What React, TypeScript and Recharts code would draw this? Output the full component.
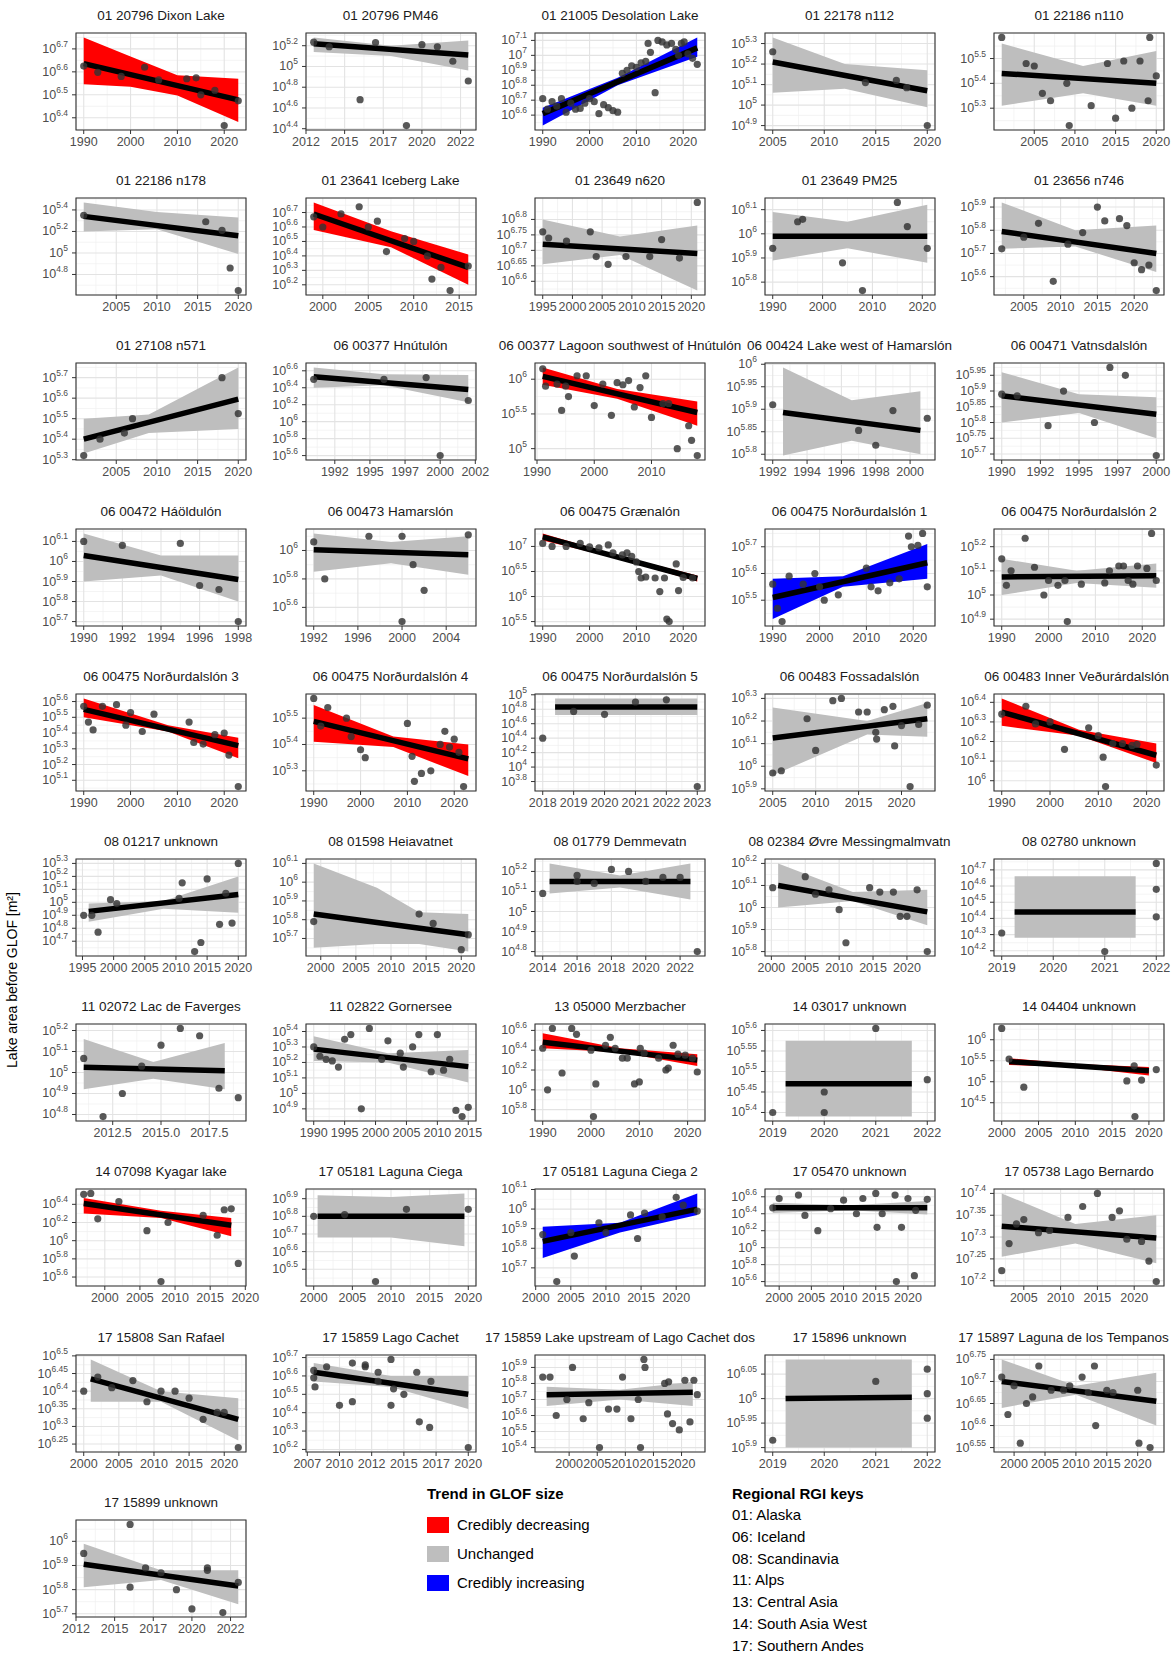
import React from 'react';
import {
  ComposedChart,
  Area,
  Line,
  Scatter,
  XAxis,
  YAxis,
  CartesianGrid,
  ReferenceArea,
} from 'recharts';

type Pt = [number, number];
type Rib = [number, number, number]; // year, lower, upper (log10 m²)

const titles = [
  '01 20796 Dixon Lake', '01 20796 PM46', '01 21005 Desolation Lake', '01 22178 n112', '01 22186 n110',
  '01 22186 n178', '01 23641 Iceberg Lake', '01 23649 n620', '01 23649 PM25', '01 23656 n746',
  '01 27108 n571', '06 00377 Hnútulón', '06 00377 Lagoon southwest of Hnútulón', '06 00424 Lake west of Hamarslón', '06 00471 Vatnsdalslón',
  '06 00472 Háöldulón', '06 00473 Hamarslón', '06 00475 Grænalón', '06 00475 Norðurdalslón 1', '06 00475 Norðurdalslón 2',
  '06 00475 Norðurdalslón 3', '06 00475 Norðurdalslón 4', '06 00475 Norðurdalslón 5', '06 00483 Fossadalslón', '06 00483 Inner Veðurárdalslón',
  '08 01217 unknown', '08 01598 Heiavatnet', '08 01779 Demmevatn', '08 02384 Øvre Messingmalmvatn', '08 02780 unknown',
  '11 02072 Lac de Faverges', '11 02822 Gornersee', '13 05000 Merzbacher', '14 03017 unknown', '14 04404 unknown',
  '14 07098 Kyagar lake', '17 05181 Laguna Ciega', '17 05181 Laguna Ciega 2', '17 05470 unknown', '17 05738 Lago Bernardo',
  '17 15808 San Rafael', '17 15859 Lago Cachet', '17 15859 Lake upstream of Lago Cachet dos', '17 15896 unknown', '17 15897 Laguna de los Tempanos',
  '17 15899 unknown',
];

// D = credibly decreasing, U = unchanged, I = credibly increasing
const trends = [
  'D', 'U', 'I', 'U', 'U',
  'U', 'D', 'U', 'U', 'U',
  'U', 'U', 'D', 'U', 'U',
  'U', 'U', 'D', 'I', 'U',
  'D', 'D', 'U', 'U', 'D',
  'U', 'U', 'U', 'U', 'U',
  'U', 'U', 'D', 'U', 'D',
  'D', 'U', 'I', 'U', 'U',
  'U', 'U', 'U', 'U', 'U',
  'U',
];

const points: Pt[][] = [
  [[1990, 6.625], [1993, 6.598], [1998, 6.58], [2003, 6.62], [2006, 6.565], [2012, 6.57], [2014, 6.574], [2015, 6.5], [2018, 6.52], [2020, 6.366], [2023, 6.474]],
  [[2013, 5.234], [2014, 5.19], [2016, 4.68], [2017, 5.23], [2019, 4.43], [2020, 5.21], [2021, 5.19], [2022, 5.05], [2023, 4.86]],
  [[1990, 6.71], [1991, 6.64], [1992, 6.69], [1993, 6.66], [1994, 6.71], [1995, 6.62], [1996, 6.68], [1997, 6.64], [1998, 6.645], [1999, 6.68], [2000, 6.71], [2001, 6.69], [2002, 6.61], [2003, 6.67], [2004, 6.65], [2005, 6.63], [2006, 6.62], [2007, 6.88], [2008, 6.9], [2009, 6.93], [2010, 6.92], [2011, 6.95], [2012, 6.96], [2012.5, 7.08], [2013, 7.02], [2014, 6.75], [2014.6, 7.1], [2015.5, 7.09], [2016.5, 7.07], [2017.5, 7.08], [2018.4, 7.04], [2019, 7.0], [2019.6, 7.08], [2020.2, 7.09], [2021, 7.01], [2022, 6.98], [2023, 6.94]],
  [[2005, 5.26], [2014, 5.11], [2017, 5.12], [2018, 5.085], [2020, 4.9]],
  [[2001, 5.585], [2004, 5.48], [2005, 5.47], [2006, 5.36], [2007, 5.33], [2009, 5.4], [2009.3, 5.23], [2012, 5.31], [2014, 5.48], [2015, 5.26], [2016, 5.49], [2017, 5.3], [2018, 5.49], [2019, 5.33], [2019.2, 5.585], [2020, 5.43]],
  [[2001, 5.35], [2016, 5.29], [2018, 5.21], [2019, 4.86], [2020, 4.65]],
  [[1999, 6.67], [2000, 6.6], [2002, 6.69], [2004, 6.74], [2005, 6.6], [2006, 6.64], [2007, 6.43], [2009, 6.52], [2010, 6.5], [2011.5, 6.4], [2012, 6.24], [2013, 6.32], [2014, 6.16], [2016, 6.33]],
  [[1995, 6.76], [1996, 6.74], [1999, 6.73], [2003, 6.76], [2004, 6.68], [2006, 6.655], [2009, 6.68], [2013, 6.68], [2015, 6.735], [2018, 6.675], [2021, 6.855]],
  [[1990, 5.94], [1995, 6.05], [1996, 6.06], [2004, 5.88], [2008, 5.765], [2015, 6.13], [2017, 6.03], [2021, 5.94]],
  [[2002, 5.72], [2005, 5.77], [2007, 5.83], [2009, 5.58], [2011, 5.74], [2013, 5.79], [2015, 5.9], [2016, 5.84], [2018, 5.85], [2019, 5.82], [2020, 5.66], [2021, 5.63], [2022, 5.65], [2023, 5.54]],
  [[2001, 5.32], [2003, 5.4], [2006, 5.43], [2007, 5.5], [2018, 5.7], [2020, 5.525]],
  [[1991, 6.5], [1996, 6.5], [1999, 6.52], [2000, 5.6], [2002, 6.25]],
  [[1991, 6.15], [1991.5, 5.9], [1993.5, 5.93], [1994.3, 5.55], [1995, 5.9], [1995.5, 5.75], [1997, 6.05], [1998.6, 6.05], [2000, 5.62], [2001.5, 5.93], [2003, 5.48], [2004, 5.95], [2005, 5.92], [2006, 5.98], [2007, 5.6], [2008, 5.88], [2009, 6.05], [2010, 5.45], [2012, 5.65], [2013, 5.65], [2014.5, 5.0], [2016.5, 5.33], [2017, 5.12], [2018, 4.9]],
  [[1992, 5.91], [1997, 5.853], [1998, 5.82], [1999, 5.897], [2001, 5.88]],
  [[1990, 5.89], [1991, 5.885], [1993, 5.79], [1994, 5.9], [1996, 5.8], [1997, 5.975], [1998, 5.95], [2000, 5.695]],
  [[1990, 6.1], [1992, 6.08], [1995, 6.09], [1996, 5.88], [1997, 5.86], [1998, 5.7]],
  [[1992, 6.06], [1993, 5.8], [1997, 6.1], [2000, 6.1], [2000, 5.5], [2001, 5.9], [2002, 5.72], [2006, 6.11]],
  [[1990, 7.06], [1992, 7.0], [1995, 7.0], [1998, 7.06], [2000, 6.99], [2002, 6.97], [2004, 7.03], [2005, 6.87], [2007, 6.83], [2008, 6.87], [2009, 6.8], [2010, 6.69], [2010.5, 6.5], [2011, 6.37], [2012, 6.39], [2014, 6.37], [2015, 6.1], [2016, 6.37], [2016.5, 5.55], [2017, 5.5], [2018.5, 6.65], [2019, 6.12], [2020, 6.38], [2022, 6.37]],
  [[1990, 5.56], [1991, 5.47], [1992, 5.42], [1993.5, 5.59], [1996.5, 5.56], [1999, 5.6], [2000, 5.55], [2001, 5.5], [2004, 5.52], [2010, 5.62], [2011, 5.55], [2012.5, 5.535], [2015, 5.565], [2017, 5.58], [2019, 5.74], [2019.6, 5.7], [2021, 5.705], [2022, 5.75], [2023, 5.55]],
  [[1990, 5.15], [1991, 5.04], [1992, 5.1], [1995, 5.235], [1997, 5.115], [1999, 5.0], [2000, 5.06], [2002, 5.04], [2003.5, 5.06], [2004, 4.89], [2007, 5.045], [2012, 5.05], [2013, 5.1], [2015, 5.12], [2016, 5.12], [2017, 5.06], [2018, 5.045], [2019, 5.12], [2021, 5.11], [2022, 5.255], [2023, 5.06]],
  [[1990, 5.57], [1991, 5.47], [1992, 5.42], [1994, 5.57], [1997, 5.58], [1999, 5.45], [2000, 5.53], [2002.5, 5.41], [2005, 5.52], [2012.5, 5.47], [2013.5, 5.34], [2015.5, 5.33], [2018, 5.39], [2020, 5.4], [2021, 5.26], [2023, 5.06]],
  [[1990, 5.575], [1991.5, 5.47], [1993, 5.54], [1997, 5.5], [1998, 5.43], [2000, 5.38], [2001, 5.35], [2010, 5.48], [2011, 5.355], [2011.5, 5.26], [2013, 5.29], [2015, 5.3], [2017, 5.4], [2018, 5.45], [2019, 5.39], [2020, 5.42], [2021, 5.37], [2022, 5.24]],
  [[2018, 4.4], [2019, 4.77], [2020, 4.73], [2021, 4.9], [2022, 4.93], [2023, 3.73]],
  [[2005, 5.97], [2006, 5.98], [2009, 6.21], [2010, 6.07], [2012, 6.29], [2013, 6.3], [2015, 6.24], [2016, 6.24], [2017, 6.15], [2017.1, 6.12], [2018, 6.25], [2019, 6.265], [2019.2, 6.09], [2020, 6.18], [2021, 5.91], [2022, 6.185], [2023, 6.27]],
  [[1990, 6.34], [1995, 6.38], [1997, 6.29], [2000, 6.3], [2003, 6.16], [2008, 6.27], [2010, 6.23], [2011, 6.12], [2011.5, 5.97], [2013, 6.19], [2015, 6.19], [2017, 6.18], [2018, 6.185], [2022, 6.08]],
  [[1995.2, 4.9], [1996.5, 4.9], [1997.5, 4.77], [1999.5, 5.02], [2000.5, 4.99], [2010.5, 5.03], [2011, 5.15], [2013, 4.62], [2014, 4.69], [2015, 5.18], [2017, 4.83], [2018, 5.07], [2019, 4.84], [2020, 5.3]],
  [[1999, 5.79], [2014, 5.83], [2016, 5.78], [2020, 5.64], [2021, 5.72]],
  [[2014, 5.09], [2016, 5.18], [2016, 5.15], [2017, 5.14], [2018, 5.21], [2019, 5.2], [2020, 5.15], [2021, 5.17], [2022, 5.17], [2023, 4.8]],
  [[2000.2, 6.09], [2005, 6.14], [2006.5, 6.06], [2008.5, 6.08], [2010, 5.99], [2011, 5.84], [2014.5, 6.09], [2016, 6.07], [2018, 6.07], [2019, 5.96], [2020, 5.96], [2021.5, 6.08], [2023, 5.8]],
  [[2019, 4.31], [2021, 4.195], [2022, 4.74], [2022, 4.58], [2022, 4.41]],
  [[2011, 5.067], [2012, 4.79], [2013, 4.9], [2014, 5.03], [2015, 5.13], [2016, 5.21], [2017, 5.175], [2018, 4.925], [2019, 4.88]],
  [[1990, 5.3], [1991, 5.24], [1992, 5.22], [1993, 5.21], [1994, 5.17], [1995, 5.35], [1996, 5.38], [1997.7, 4.9], [1999, 5.42], [2001, 5.22], [2002, 5.34], [2004, 5.26], [2004.5, 5.17], [2006, 5.3], [2007, 5.38], [2009, 5.14], [2010, 5.38], [2011, 5.15], [2012, 5.22], [2013, 4.89], [2014, 4.85], [2015, 4.91]],
  [[1990, 6.42], [1991, 6.0], [1992, 6.62], [1994, 6.17], [1996, 6.62], [1997, 6.56], [2000, 6.4], [2000.5, 5.73], [2001, 6.06], [2003, 6.45], [2004, 6.53], [2005, 6.42], [2006.5, 6.32], [2007.5, 6.32], [2009, 6.06], [2010, 6.08], [2010.2, 6.42], [2011, 6.37], [2014, 6.32], [2015.5, 6.2], [2016, 6.22], [2017, 6.45], [2018, 6.36], [2019.5, 6.35], [2021, 6.32], [2022, 6.18]],
  [[2019, 5.4], [2020, 5.45], [2020, 5.4], [2021, 5.605], [2022, 5.48]],
  [[2000, 6.27], [2001, 5.54], [2003, 4.87], [2017, 5.02], [2018, 5.38], [2018.1, 4.17], [2019, 5.04], [2021, 5.29]],
  [[1997, 6.51], [1998, 6.52], [1999, 6.24], [2002, 6.43], [2006, 6.11], [2008, 5.55], [2009, 6.2], [2014, 6.28], [2016, 6.06], [2017, 6.34], [2018, 6.35], [2019, 5.75]],
  [[2000, 6.8], [2004, 6.81], [2008, 6.43], [2012, 6.84], [2020, 6.84]],
  [[2001, 5.87], [2003, 5.63], [2005, 5.88], [2005.5, 5.76], [2009, 5.93], [2010, 5.88], [2013.5, 5.97], [2014.5, 5.85], [2015.5, 5.98], [2018, 5.96], [2020, 6.06], [2021, 6.02], [2023, 5.99]],
  [[1999, 6.47], [2000, 6.58], [2003, 6.62], [2004, 6.38], [2006, 6.2], [2008, 6.46], [2010, 6.56], [2012, 6.4], [2013, 6.58], [2015, 6.64], [2015.2, 6.24], [2016, 6.4], [2018, 6.62], [2018.2, 5.6], [2019, 6.24], [2020, 6.58], [2021, 5.67], [2021.2, 6.44], [2023, 6.57]],
  [[2002, 7.223], [2003, 7.285], [2004, 7.33], [2005, 7.34], [2007, 7.31], [2008.5, 7.315], [2011, 7.345], [2013, 7.37], [2015, 7.4], [2017, 7.345], [2018, 7.36], [2019, 7.295], [2021, 7.29], [2022, 7.245], [2023, 7.198]],
  [[2000, 6.4], [2002, 6.44], [2004, 6.41], [2007, 6.43], [2009, 6.37], [2011, 6.4], [2013, 6.4], [2015, 6.38], [2017, 6.32], [2019, 6.34], [2020, 6.34], [2022, 6.24]],
  [[2008, 6.63], [2008, 6.59], [2008.1, 6.54], [2009, 6.65], [2010, 6.44], [2011, 6.46], [2011, 6.67], [2012, 6.66], [2012, 6.65], [2013, 6.62], [2013, 6.57], [2014, 6.69], [2014, 6.44], [2014.2, 6.53], [2015, 6.5], [2016, 6.62], [2016.2, 6.35], [2017, 6.32], [2017.1, 6.57], [2020, 6.21]],
  [[1995.3, 5.84], [1996.6, 5.84], [1997.7, 5.6], [1999.6, 5.7], [2000.6, 5.9], [2002.5, 5.58], [2003.5, 5.68], [2005.4, 5.4], [2007, 5.64], [2008.5, 5.64], [2009.5, 5.84], [2011, 5.58], [2012.3, 5.7], [2012.7, 5.4], [2013.3, 5.95], [2013.5, 5.9], [2017, 5.8], [2017.5, 5.61], [2017.7, 5.81], [2018.4, 5.55], [2019.6, 5.51], [2020.6, 5.82], [2021.5, 5.56], [2022.2, 5.82], [2022.8, 5.73]],
  [[2019, 5.915], [2021, 6.035], [2022, 6.06], [2022, 6.01], [2022, 5.96]],
  [[1998, 6.71], [1999, 6.625], [2000, 6.69], [2001, 6.56], [2002, 6.65], [2003, 6.665], [2004, 6.735], [2006, 6.68], [2008, 6.68], [2009, 6.69], [2011, 6.71], [2012, 6.675], [2013, 6.735], [2013.2, 6.6], [2015, 6.68], [2016, 6.675], [2020, 6.68], [2020.2, 6.56], [2022, 6.55]],
  [[2013, 5.95], [2016, 6.07], [2016, 5.81], [2017, 5.89], [2018, 5.87], [2019, 5.8], [2020, 5.72], [2021, 5.88], [2021, 5.89], [2022, 5.705], [2023, 5.83]],
];

// credible band of the fitted trend
const ribbons: Rib[][] = [
  [[1990, 6.546, 6.75], [2000, 6.535, 6.667], [2010, 6.497, 6.585], [2023, 6.382, 6.57]],
  [[2013, 5.14, 5.28], [2018, 5.1, 5.2], [2023, 4.96, 5.25]],
  [[1990, 6.53, 6.65], [2006, 6.8, 6.85], [2023, 6.99, 7.12]],
  [[2005, 5.06, 5.33], [2012, 5.08, 5.2], [2020, 4.99, 5.17]],
  [[2001, 5.31, 5.56], [2011, 5.36, 5.47], [2020, 5.31, 5.53]],
  [[2001, 5.2, 5.47], [2010, 5.22, 5.38], [2020, 4.99, 5.33]],
  [[1999, 6.58, 6.77], [2007.5, 6.46, 6.57], [2016, 6.2, 6.41]],
  [[1995, 6.655, 6.8], [2008, 6.685, 6.745], [2021, 6.57, 6.78]],
  [[1990, 5.89, 6.09], [2005, 5.94, 6.05], [2021, 5.88, 6.12]],
  [[2002, 5.72, 5.92], [2012, 5.73, 5.8], [2023, 5.62, 5.82]],
  [[2001, 5.33, 5.5], [2009, 5.43, 5.52], [2020, 5.45, 5.75]],
  [[1991, 6.4, 6.64], [1996, 6.43, 6.56], [2002, 6.23, 6.55]],
  [[1991, 5.92, 6.17], [2004, 5.72, 5.86], [2018, 5.33, 5.68]],
  [[1992.6, 5.797, 5.993], [1996.6, 5.83, 5.92], [2000.6, 5.8, 5.94]],
  [[1990, 5.8, 5.96], [1995, 5.83, 5.89], [2000, 5.75, 5.88]],
  [[1990, 5.9, 6.14], [1994, 5.93, 6.03], [1998, 5.8, 6.03]],
  [[1992, 5.85, 6.12], [1999, 5.91, 6.06], [2006, 5.83, 6.1]],
  [[1990, 7.12, 7.26], [2006, 6.76, 6.82], [2023, 6.3, 6.42]],
  [[1990, 5.43, 5.58], [2005, 5.55, 5.59], [2023, 5.58, 5.71]],
  [[1990, 5.0, 5.15], [2006, 5.05, 5.1], [2023, 5.03, 5.13]],
  [[1990, 5.5, 5.62], [2008, 5.41, 5.45], [2023, 5.24, 5.37]],
  [[1990, 5.41, 5.55], [2007, 5.39, 5.43], [2023, 5.28, 5.4]],
  [[2018.4, 4.72, 4.95], [2023, 4.72, 4.95]],
  [[2005, 5.96, 6.26], [2016, 6.14, 6.2], [2023, 6.13, 6.28]],
  [[1990, 6.28, 6.42], [2006, 6.23, 6.26], [2022, 6.09, 6.19]],
  [[1996, 4.85, 4.99], [2008, 4.95, 5.01], [2020, 4.92, 5.2]],
  [[1999, 5.65, 6.1], [2008, 5.67, 5.97], [2014, 5.67, 5.84], [2021, 5.63, 5.83]],
  [[2014.4, 5.09, 5.24], [2018.5, 5.12, 5.18], [2022.6, 5.06, 5.24]],
  [[2001, 6.0, 6.2], [2012, 6.03, 6.07], [2023, 5.92, 6.08]],
  [[2019.25, 4.28, 4.66], [2021.6, 4.28, 4.66]],
  [[2011, 4.92, 5.16], [2014.6, 4.97, 5.05], [2018.3, 4.92, 5.14]],
  [[1990, 5.21, 5.37], [2002, 5.2, 5.26], [2015, 5.07, 5.28]],
  [[1990, 6.42, 6.57], [2006, 6.38, 6.42], [2022, 6.24, 6.36]],
  [[2019.25, 5.39, 5.575], [2021.7, 5.39, 5.575]],
  [[2001, 5.4, 5.56], [2010, 5.35, 5.42], [2020, 5.15, 5.35]],
  [[1997, 6.3, 6.47], [2008, 6.25, 6.33], [2018, 6.05, 6.25]],
  [[2000.5, 6.68, 6.92], [2010, 6.68, 6.91], [2019.5, 6.63, 6.93]],
  [[2001, 5.75, 5.91], [2012, 5.88, 5.93], [2023, 5.97, 6.08]],
  [[1999, 6.41, 6.53], [2011, 6.44, 6.5], [2023, 6.39, 6.55]],
  [[2002, 7.255, 7.4], [2012, 7.285, 7.33], [2023, 7.24, 7.35]],
  [[2001, 6.37, 6.49], [2011, 6.37, 6.4], [2022, 6.26, 6.38]],
  [[2008, 6.57, 6.67], [2014, 6.54, 6.6], [2020, 6.42, 6.6]],
  [[1996, 5.66, 5.78], [2009, 5.7, 5.76], [2022, 5.66, 5.81]],
  [[2019.25, 5.9, 6.08], [2021.7, 5.9, 6.08]],
  [[1998, 6.64, 6.75], [2010, 6.67, 6.69], [2023, 6.6, 6.72]],
  [[2013, 5.81, 5.99], [2018, 5.84, 5.88], [2023, 5.74, 5.88]],
];

// fitted trend at the first and last year of each band
const fits: Pt[] = [
  [6.636, 6.478], [5.22, 5.11], [6.61, 7.05], [5.21, 5.07], [5.44, 5.4],
  [5.34, 5.16], [6.69, 6.32], [6.72, 6.69], [5.99, 5.99], [5.795, 5.7],
  [5.4, 5.595], [6.53, 6.38], [6.04, 5.52], [5.893, 5.853], [5.885, 5.826],
  [6.03, 5.91], [6.005, 5.97], [7.19, 6.36], [5.51, 5.64], [5.075, 5.08],
  [5.55, 5.32], [5.488, 5.345], [4.83, 4.83], [6.125, 6.21], [6.35, 6.13],
  [4.93, 5.06], [5.83, 5.72], [5.15, 5.15], [6.1, 5.98], [4.44, 4.44],
  [5.025, 5.008], [5.286, 5.173], [6.48, 6.3], [5.47, 5.47], [5.48, 5.26],
  [6.41, 6.17], [6.8, 6.8], [5.835, 6.0], [6.47, 6.47], [7.325, 7.298],
  [6.435, 6.32], [6.62, 6.5], [5.73, 5.745], [6.0, 6.003], [6.7, 6.655],
  [5.905, 5.815],
];

const dec10 = [1990, 2000, 2010, 2020];
const five = [2000, 2005, 2010, 2015, 2020];
const from2005 = [2005, 2010, 2015, 2020];
const halfYears = [2012.5, 2015, 2017.5, 2020, 2022.5];

const xTicks: number[][] = [
  dec10, halfYears, dec10, from2005, from2005,
  from2005, [2000, 2005, 2010, 2015], [1995, 2000, 2005, 2010, 2015, 2020], dec10, from2005,
  from2005, [1992.5, 1995, 1997.5, 2000, 2002.5], [1990, 2000, 2010], [1992, 1994, 1996, 1998, 2000], [1990, 1992.5, 1995, 1997.5, 2000],
  [1990, 1992, 1994, 1996, 1998], [1992, 1996, 2000, 2004], dec10, dec10, dec10,
  dec10, dec10, [2018, 2019, 2020, 2021, 2022, 2023], from2005, dec10,
  [1995, 2000, 2005, 2010, 2015, 2020], five, [2014, 2016, 2018, 2020, 2022], five, [2019, 2020, 2021, 2022],
  [2012.5, 2015, 2017.5], [1990, 1995, 2000, 2005, 2010, 2015], dec10, [2019, 2020, 2021, 2022], five,
  five, five, five, five, from2005,
  five, [2007.5, 2010, 2012.5, 2015, 2017.5, 2020], five, [2019, 2020, 2021, 2022], five,
  halfYears,
];

const yTicks: number[][] = [
  [6.4, 6.5, 6.6, 6.7], [4.4, 4.6, 4.8, 5, 5.2], [6.6, 6.7, 6.8, 6.9, 7, 7.1], [4.9, 5, 5.1, 5.2, 5.3], [5.3, 5.4, 5.5],
  [4.8, 5, 5.2, 5.4], [6.2, 6.3, 6.4, 6.5, 6.6, 6.7], [6.6, 6.65, 6.7, 6.75, 6.8], [5.8, 5.9, 6, 6.1], [5.6, 5.7, 5.8, 5.9],
  [5.3, 5.4, 5.5, 5.6, 5.7], [5.6, 5.8, 6, 6.2, 6.4, 6.6], [5, 5.5, 6], [5.8, 5.85, 5.9, 5.95, 6], [5.7, 5.75, 5.8, 5.85, 5.9, 5.95],
  [5.7, 5.8, 5.9, 6, 6.1], [5.6, 5.8, 6], [5.5, 6, 6.5, 7], [5.4, 5.5, 5.6, 5.7], [4.9, 5, 5.1, 5.2],
  [5.1, 5.2, 5.3, 5.4, 5.5, 5.6], [5.3, 5.4, 5.5], [3.8, 4, 4.2, 4.4, 4.6, 4.8, 5], [5.9, 6, 6.1, 6.2, 6.3], [6, 6.1, 6.2, 6.3, 6.4],
  [4.7, 4.8, 4.9, 5, 5.1, 5.2, 5.3], [5.7, 5.8, 5.9, 6, 6.1], [4.8, 4.9, 5, 5.1, 5.2], [5.8, 5.9, 6, 6.1, 6.2], [4.2, 4.3, 4.4, 4.5, 4.6, 4.7],
  [4.8, 4.9, 5, 5.1, 5.2], [4.9, 5, 5.1, 5.2, 5.3, 5.4], [5.8, 6, 6.2, 6.4, 6.6], [5.4, 5.45, 5.5, 5.55, 5.6], [4.5, 5, 5.5, 6],
  [5.6, 5.8, 6, 6.2, 6.4], [6.5, 6.6, 6.7, 6.8, 6.9], [5.7, 5.8, 5.9, 6, 6.1], [5.6, 5.8, 6, 6.2, 6.4, 6.6], [7.2, 7.25, 7.3, 7.35, 7.4],
  [6.25, 6.3, 6.35, 6.4, 6.45, 6.5], [6.2, 6.3, 6.4, 6.5, 6.6, 6.7], [5.4, 5.5, 5.6, 5.7, 5.8, 5.9], [5.9, 5.95, 6, 6.05], [6.55, 6.6, 6.65, 6.7, 6.75],
  [5.7, 5.8, 5.9, 6],
];

const legendItems = [
  { key: 'D', label: 'Credibly decreasing' },
  { key: 'U', label: 'Unchanged' },
  { key: 'I', label: 'Credibly increasing' },
];
const regionKeys = ['01: Alaska', '06: Iceland', '08: Scandinavia', '11: Alps', '13: Central Asia', '14: South Asia West', '17: Southern Andes'];

const FILL: Record<string, string> = { D: '#FF0000', U: '#BEBEBE', I: '#0000FF' };
const FONT = "'Liberation Sans', Arial, Helvetica, sans-serif";
const TICK_GREY = '#4D4D4D';
const TITLE_SIZE = 13.5;
const PAGE_W = 1171;

const PLOT_W = 170;
const PLOT_H = 97;
const Y_W = 58;
const TOP_M = 10;
const RIGHT_M = 20;

// ggplot-style continuous expansion (5% each side)
const expand = (vals: number[]): [number, number] => {
  const lo = Math.min(...vals);
  const hi = Math.max(...vals);
  const pad = (hi - lo) * 0.05;
  return [lo - pad, hi + pad];
};

const inside = (v: number, d: [number, number]) => v >= d[0] - 1e-9 && v <= d[1] + 1e-9;

// minor breaks halfway between the major ones
const minorsOf = (ticks: number[], d: [number, number]) => {
  if (ticks.length < 2) return [];
  const step = ticks[1] - ticks[0];
  const out: number[] = [ticks[0] - step / 2];
  ticks.forEach((t) => out.push(t + step / 2));
  return out.filter((v) => inside(v, d));
};

// strip titles near the right edge get pulled back inside the page
let measureCtx: CanvasRenderingContext2D | null = null;
const textWidth = (s: string) => {
  if (!measureCtx) measureCtx = document.createElement('canvas').getContext('2d');
  if (!measureCtx) return s.length * TITLE_SIZE * 0.5;
  measureCtx.font = `${TITLE_SIZE}px ${FONT}`;
  return measureCtx.measureText(s).width;
};

const YTick = ({ x, y, payload }: any) => (
  <text x={x} y={y + 4} textAnchor="end" fill={TICK_GREY} fontSize={12.5} fontFamily={FONT}>
    10
    <tspan dy={-6} fontSize={8.5}>
      {String(payload.value)}
    </tspan>
  </text>
);

const Dot = (p: any) => <circle cx={p.cx} cy={p.cy} r={3.6} fill="#333333" fillOpacity={0.82} />;

const Panel = ({ i }: { i: number }) => {
  const col = i % 5;
  const row = Math.floor(i / 5);
  const plotLeft = 76 + 229.5 * col;
  const plotTop = 33 + 165.2 * row;

  const rib = ribbons[i];
  const rows = rib.map(([x, lo, hi], k) => ({
    x,
    band: [lo, hi],
    fit: k === 0 ? fits[i][0] : k === rib.length - 1 ? fits[i][1] : null,
  }));
  const pts = points[i].map(([x, y]) => ({ x, y }));

  const xd = expand([...points[i].map((p) => p[0]), ...rib.map((r) => r[0])]);
  const yd = expand([...points[i].map((p) => p[1]), ...rib.flatMap((r) => [r[1], r[2]]), ...fits[i]]);
  const xt = xTicks[i].filter((t) => inside(t, xd));
  const yt = yTicks[i].filter((t) => inside(t, yd));

  // minor grid lines sit between the major breaks of the panel's axes
  const xPix = (v: number) => Y_W + ((v - xd[0]) / (xd[1] - xd[0])) * PLOT_W;
  const yPix = (v: number) => TOP_M + ((yd[1] - v) / (yd[1] - yd[0])) * PLOT_H;
  const vMinor = minorsOf(xTicks[i], xd).map(xPix);
  const hMinor = minorsOf(yTicks[i], yd).map(yPix);
  const fmtX = (v: number) => (i === 30 ? v.toFixed(1) : String(Math.floor(v)));

  const tw = textWidth(titles[i]);
  const titleCenter = Math.min(plotLeft + PLOT_W / 2, PAGE_W - 2 - tw / 2);

  return (
    <>
      <div
        style={{
          position: 'absolute',
          left: titleCenter,
          top: plotTop - 25,
          transform: 'translateX(-50%)',
          whiteSpace: 'nowrap',
          fontSize: TITLE_SIZE,
          lineHeight: '16px',
          color: '#1A1A1A',
        }}
      >
        {titles[i]}
      </div>
      <div style={{ position: 'absolute', left: plotLeft - Y_W, top: plotTop - TOP_M }}>
        <ComposedChart
          width={Y_W + PLOT_W + RIGHT_M}
          height={TOP_M + PLOT_H + 24}
          data={rows}
          margin={{ top: TOP_M, right: RIGHT_M, left: 0, bottom: 0 }}
          style={{ overflow: 'visible' }}
        >
          <CartesianGrid stroke="#EFEFEF" strokeWidth={0.7} horizontalPoints={hMinor} verticalPoints={vMinor} />
          <CartesianGrid stroke="#E3E3E3" strokeWidth={1.1} />
          <XAxis
            type="number"
            dataKey="x"
            domain={xd}
            ticks={xt}
            allowDataOverflow
            interval={0}
            height={24}
            axisLine={false}
            tickSize={4}
            tickMargin={3}
            tickLine={{ stroke: '#333333' }}
            tickFormatter={fmtX}
            tick={{ fill: TICK_GREY, fontSize: 12.5, fontFamily: FONT }}
          />
          <YAxis
            type="number"
            domain={yd}
            ticks={yt}
            allowDataOverflow
            interval={0}
            width={Y_W}
            axisLine={false}
            tickSize={4}
            tickMargin={4}
            tickLine={{ stroke: '#333333' }}
            tick={<YTick />}
          />
          <Area
            dataKey="band"
            type="linear"
            fill={FILL[trends[i]]}
            fillOpacity={1}
            stroke="none"
            isAnimationActive={false}
          />
          <Scatter data={pts} dataKey="y" shape={<Dot />} isAnimationActive={false} />
          <Line
            dataKey="fit"
            type="linear"
            stroke="#000000"
            strokeWidth={5.5}
            dot={false}
            connectNulls
            isAnimationActive={false}
          />
          <ReferenceArea
            x1={xd[0]}
            x2={xd[1]}
            y1={yd[0]}
            y2={yd[1]}
            fill="none"
            stroke="#333333"
            strokeWidth={1.1}
            ifOverflow="visible"
          />
        </ComposedChart>
      </div>
    </>
  );
};

export default function App() {
  return (
    <div
      style={{
        position: 'absolute',
        left: 0,
        top: 0,
        width: PAGE_W,
        height: 1653,
        background: '#FFFFFF',
        fontFamily: FONT,
        overflow: 'hidden',
      }}
    >
      {titles.map((_, i) => (
        <Panel key={i} i={i} />
      ))}

      <div
        style={{
          position: 'absolute',
          left: 12,
          top: 980,
          transform: 'translate(-50%, -50%) rotate(-90deg)',
          whiteSpace: 'nowrap',
          fontSize: 14,
          color: '#000000',
        }}
      >
        Lake area before GLOF [m²]
      </div>

      <div style={{ position: 'absolute', left: 427, top: 1485, fontSize: 15, fontWeight: 'bold', lineHeight: '18px' }}>
        Trend in GLOF size
      </div>
      {legendItems.map((it, k) => (
        <React.Fragment key={it.key}>
          <div
            style={{
              position: 'absolute',
              left: 427,
              top: 1517 + 29 * k,
              width: 22,
              height: 16,
              background: FILL[it.key],
            }}
          />
          <div style={{ position: 'absolute', left: 457, top: 1516 + 29 * k, fontSize: 15, lineHeight: '18px' }}>
            {it.label}
          </div>
        </React.Fragment>
      ))}

      <div style={{ position: 'absolute', left: 732, top: 1485, fontSize: 15, fontWeight: 'bold', lineHeight: '18px' }}>
        Regional RGI keys
      </div>
      {regionKeys.map((r, k) => (
        <div
          key={r}
          style={{ position: 'absolute', left: 732, top: 1506 + 21.8 * k, fontSize: 15, lineHeight: '18px' }}
        >
          {r}
        </div>
      ))}
    </div>
  );
}
